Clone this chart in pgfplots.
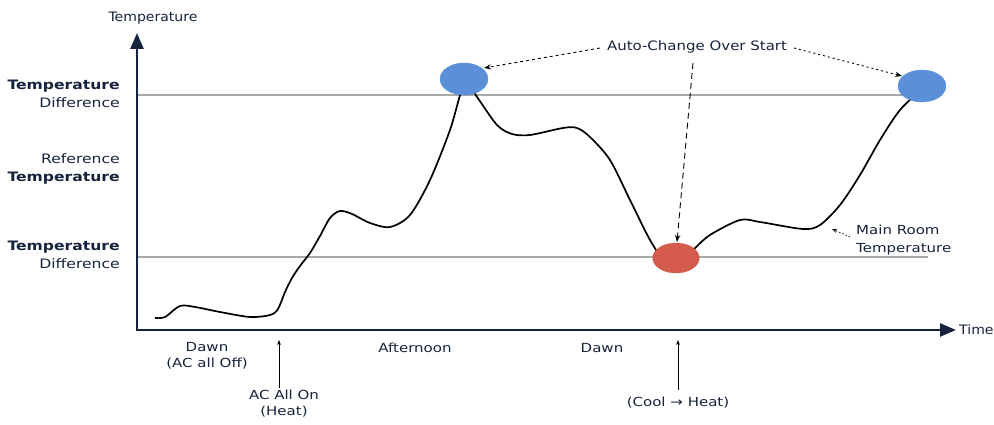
\documentclass[border=0pt]{standalone}
\usepackage{pgfplots}
\pgfplotsset{compat=1.18}
\usepackage{fontspec}
\setmainfont{DejaVu Sans}
\usetikzlibrary{arrows.meta}
\definecolor{navy}{HTML}{16233D}
\definecolor{blueE}{HTML}{5B8FD8}
\definecolor{redE}{HTML}{D45A4C}
\definecolor{refgray}{HTML}{A8A8A8}
\tikzset{lab/.style={navy, font=\fontsize{13}{18}\selectfont, xscale=1.2}}
\begin{document}
\begin{tikzpicture}
\begin{axis}[scale only axis, width=994pt, height=425pt,
  xmin=0, xmax=994, ymin=0, ymax=425, y dir=reverse,
  hide axis, clip=false, set layers]
% reference lines
\addplot[refgray, line width=1.2pt] coordinates {(137,95) (925,95)};
\addplot[refgray, line width=1.2pt] coordinates {(137,257) (928,257)};
% auto change-over ellipses
\addplot[blueE, only marks, mark=*, mark size=16, mark layer=axis background,
  mark options={xscale=1.5, fill=blueE, draw=blueE}] coordinates {(464,79) (922,86)};
\addplot[redE, only marks, mark=*, mark size=15, mark layer=axis background,
  mark options={xscale=1.55, fill=redE, draw=redE}] coordinates {(676,258)};
% main room temperature
\addplot[black, line width=1.7pt, smooth, tension=0.5] coordinates {
(155,318) (165,317) (180,306) (195,307) (220,312) (250,317) (270,315)
(278,309) (285,292) (292,278) (300,266) (310,253) (320,236) (330,218) (340,211) (352,214)
(370,223) (390,227) (410,215) (430,180) (450,130) (465,82) (477,97) (497,125) (512,134)
(530,135) (563,128) (577,128) (590,137) (610,160) (630,200) (650,240)
(665,262) (676,265) (693,250) (710,235) (740,220) (760,222) (803,229)
(820,225) (840,205) (860,175) (880,140) (900,110) (923,88)};
% axes
\draw[navy, line width=2.6pt, -{Triangle[length=16pt,width=13pt]}] (axis cs:137,331) -- (axis cs:137,33);
\draw[navy, line width=2.6pt, -{Triangle[length=16pt,width=13pt]}] (axis cs:136,330) -- (axis cs:956,330);
\node[lab, xscale=0.9, anchor=west, inner sep=0pt] at (axis cs:959,330) {Time};
\node[lab, xscale=0.9] at (axis cs:153,18) {Temperature};
% y labels
\node[lab, align=right, anchor=east] at (axis cs:124,94) {\textbf{Temperature}\\Difference};
\node[lab, align=right, anchor=east] at (axis cs:124,169) {Reference\\\textbf{Temperature}};
\node[lab, align=right, anchor=east] at (axis cs:124,255) {\textbf{Temperature}\\Difference};
% annotations
\node[lab, xscale=0.96] at (axis cs:697,47) {Auto-Change Over Start};
\draw[black, line width=0.9pt, dash pattern=on 3pt off 3pt, -{Stealth[length=7pt]}] (axis cs:600,48) -- (axis cs:484,68);
\draw[black, line width=0.9pt, dash pattern=on 2pt off 3pt, -{Stealth[length=7pt]}] (axis cs:794,48) -- (axis cs:902,76);
\draw[black, line width=0.9pt, dash pattern=on 6pt off 4pt, -{Stealth[length=7pt]}] (axis cs:693,63) -- (axis cs:677,242);
\node[lab, font=\fontsize{12.5}{18}\selectfont, align=left, anchor=west] at (axis cs:852,240) {Main Room\\Temperature};
\draw[black, line width=0.7pt, dash pattern=on 1.5pt off 2pt, -{Stealth[length=5pt]}] (axis cs:850,237) -- (axis cs:832,229);
% x labels
\node[lab, font=\fontsize{12.5}{16}\selectfont, align=center] at (axis cs:207,356) {Dawn\\(AC all Off)};
\draw[black, line width=0.7pt, -{Stealth[length=5pt]}] (axis cs:279,388) -- (axis cs:279,340);
\node[lab, font=\fontsize{12.5}{16}\selectfont, align=center] at (axis cs:284,404) {AC All On\\(Heat)};
\node[lab, font=\fontsize{12.5}{16}\selectfont] at (axis cs:415,348) {Afternoon};
\node[lab, font=\fontsize{12.5}{16}\selectfont] at (axis cs:602,348) {Dawn};
\draw[black, line width=0.7pt, -{Stealth[length=5pt]}] (axis cs:678,390) -- (axis cs:678,340);
\node[lab, font=\fontsize{12.5}{16}\selectfont] at (axis cs:678,403) {(Cool → Heat)};
\end{axis}
\pgfresetboundingbox
\path (current axis.south west) rectangle (current axis.north east);
\end{tikzpicture}
\end{document}
